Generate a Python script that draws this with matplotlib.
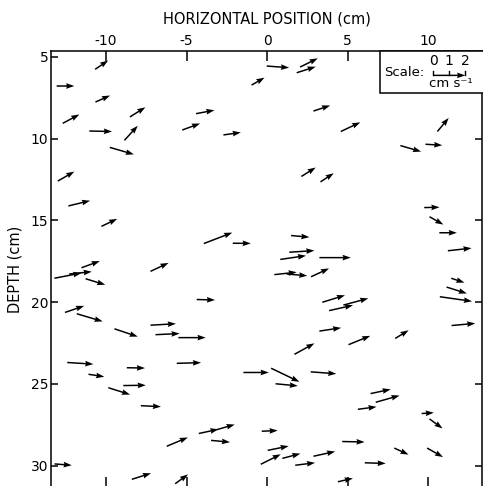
import matplotlib
matplotlib.use("Agg")
import matplotlib.pyplot as plt
from matplotlib.patches import Rectangle

plt.rcParams["font.family"] = "DejaVu Sans"
plt.rcParams["axes.unicode_minus"] = False

# arrow tails (cm) and velocity components (cm/s, w positive downward)
x_pos = [-10.68, -0.02, 2.05, 1.84, -0.96, -13.07, -10.66, -12.69, -8.52, -11.04,
         -8.86, -5.27, -4.41, -2.71, -9.77, -13.00, -12.34, -10.29, -11.53, -7.24,
         2.88, 2.13, 3.32, -3.93, -2.13, 1.49, 1.38, 0.82, 3.25, 0.45,
         1.22, 2.73, 4.58, 10.58, 8.28, 9.84, 9.76, 10.09, 10.70, 11.23,
         11.44, 11.15, 10.73, 11.46, -13.21, -12.29, -11.27, -12.55, -11.82, -9.48,
         -7.24, -6.93, -5.51, -4.37, 3.43, 3.85, 4.74, 3.25, 5.06, 7.96,
         1.70, -12.41, -8.71, -5.61, -11.09, -8.93, -9.86, -7.84, -6.23, -13.20,
         -8.40, -5.71, -1.47, 0.25, 0.53, 2.71, -4.24, -3.14, -3.48, -0.33,
         0.04, -0.39, 0.95, 1.75, 2.88, 6.43, 6.75, 5.64, 9.60, 10.09,
         4.67, 7.90, 9.94, 6.07, 4.40]
depth = [5.77, 5.57, 5.63, 5.98, 6.73, 6.79, 7.77, 9.07, 8.68, 9.54,
         10.11, 9.48, 8.48, 9.78, 10.54, 12.60, 14.12, 15.37, 17.90, 18.12,
         8.32, 12.32, 12.65, 16.42, 16.40, 15.93, 16.95, 17.39, 17.28, 18.32,
         18.28, 18.45, 9.57, 9.57, 10.43, 10.35, 14.22, 14.78, 15.76, 16.86,
         18.54, 19.08, 19.67, 21.43, 18.54, 18.28, 18.57, 20.63, 20.71, 21.63,
         21.41, 21.99, 22.17, 19.84, 20.01, 20.52, 20.18, 21.77, 22.60, 22.22,
         23.19, 23.69, 24.01, 23.74, 24.41, 25.10, 25.23, 26.33, 28.81, 29.89,
         30.83, 31.10, 24.30, 24.04, 24.99, 24.26, 28.03, 27.80, 28.45, 27.89,
         29.06, 29.91, 29.55, 29.97, 29.42, 25.59, 26.12, 26.55, 26.81, 27.14,
         28.52, 28.92, 28.92, 29.82, 30.98]
u_vel = [0.81, 1.39, 1.10, 1.18, 0.80, 1.10, 0.91, 1.03, 0.96, 1.41,
         0.83, 1.11, 1.14, 1.08, 1.50, 1.03, 1.35, 0.98, 1.14, 1.12,
         1.04, 0.89, 0.82, 1.77, 1.12, 1.14, 1.56, 1.60, 1.95, 1.39,
         1.28, 1.12, 1.21, 0.70, 1.29, 1.04, 0.95, 0.86, 1.09, 1.47,
         0.82, 1.26, 2.00, 1.47, 1.68, 1.40, 1.22, 1.19, 1.61, 1.45,
         1.58, 1.50, 1.70, 1.14, 1.41, 1.49, 1.55, 1.35, 1.35, 0.83,
         1.24, 1.62, 1.13, 1.51, 0.98, 1.40, 1.35, 1.25, 1.31, 1.07,
         1.19, 0.80, 1.58, 1.76, 1.38, 1.59, 1.22, 1.13, 1.18, 0.99,
         1.30, 1.24, 1.12, 1.23, 1.35, 1.25, 1.48, 1.16, 0.76, 0.81,
         1.39, 0.89, 0.99, 1.30, 0.93]
w_vel = [-0.54, 0.10, -0.53, -0.37, -0.45, 0.00, -0.40, -0.54, -0.59, 0.03,
         -0.89, -0.40, -0.21, -0.15, 0.43, -0.58, -0.32, -0.46, -0.41, -0.52,
         -0.34, -0.55, -0.53, -0.67, 0.01, 0.10, -0.10, -0.23, 0.00, -0.15,
         0.11, -0.51, -0.56, -0.83, 0.37, 0.06, -0.02, 0.48, 0.00, -0.16,
         0.27, 0.39, 0.28, -0.13, -0.32, -0.14, 0.37, -0.40, 0.47, 0.48,
         -0.09, -0.07, 0.00, 0.03, -0.43, -0.33, -0.41, -0.20, -0.54, -0.50,
         -0.67, 0.10, 0.02, -0.04, 0.15, -0.02, 0.42, 0.06, -0.54, 0.08,
         -0.37, -0.57, 0.00, 0.83, 0.13, 0.12, -0.26, -0.32, 0.11, -0.04,
         -0.26, -0.61, -0.29, -0.15, -0.29, -0.26, -0.41, -0.15, -0.05, 0.58,
         0.03, 0.40, 0.55, 0.04, -0.21]

x_ticks = [-10, -5, 0, 5, 10]
depth_ticks = [5, 10, 15, 20, 25, 30]
scale_ticks = [0, 1, 2]

fig = plt.figure(figsize=(4.83, 4.86), dpi=100)
ax = fig.add_axes([51 / 483, -1 / 486, 431 / 483, 436 / 486])

qkw = dict(angles="xy", scale_units="xy", scale=1, pivot="tail", units="dots",
           width=1.5, headwidth=3.8, headlength=5.5, headaxislength=5, color="black")
ax.quiver(x_pos, depth, u_vel, w_vel, zorder=3, **qkw)

ax.set_xlim(-13.42, 13.35)
ax.set_ylim(31.30, 4.65)
ax.set_xticks(x_ticks)
ax.set_yticks(depth_ticks)
ax.xaxis.set_label_position("top")
ax.tick_params(axis="x", direction="in", length=7, width=1.1, top=True, bottom=True,
               labeltop=True, labelbottom=False, pad=2, labelsize=10)
ax.tick_params(axis="y", direction="in", length=5, width=1.1, left=True, right=True,
               pad=2, labelsize=10)
ax.set_xlabel("HORIZONTAL POSITION (cm)", fontsize=10.5, labelpad=8)
ax.set_ylabel("DEPTH (cm)", fontsize=10.5, labelpad=6)
for s in ax.spines.values():
    s.set_linewidth(1.1)

# scale box
ax.add_patch(Rectangle((0.763, 0.904), 0.25, 0.096, transform=ax.transAxes,
                       facecolor="white", edgecolor="black", linewidth=1.1,
                       zorder=4, clip_on=False))
x0, y0 = 10.31, 6.14
ax.quiver([x0], [y0], [scale_ticks[-1]], [0], zorder=5, **qkw)
for t in scale_ticks:
    ax.plot([x0 + t, x0 + t], [y0, y0 - 0.25], color="black", lw=1.0, zorder=5)
    ax.text(x0 + t, 5.26, str(t), ha="center", va="center", fontsize=10, zorder=5)
ax.text(8.51, 5.96, "Scale:", ha="center", va="center", fontsize=9.5, zorder=5)
ax.text(11.4, 6.64, "cm s\u207b\u00b9", ha="center", va="center", fontsize=9.5, zorder=5)

fig.savefig("out.png", dpi=100)
